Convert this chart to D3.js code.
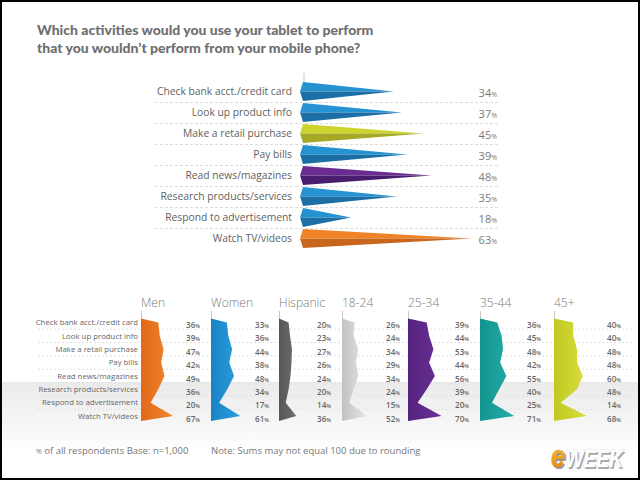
<!DOCTYPE html>
<html>
<head>
<meta charset="utf-8">
<script src="https://cdn.jsdelivr.net/npm/d3@7"></script>
<style>
  html, body { margin: 0; padding: 0; background: #fff; }
  svg { display: block; }
</style>
</head>
<body>
<script>
// ---------------- DATA ----------------
const categories = [
  "Check bank acct./credit card",
  "Look up product info",
  "Make a retail purchase",
  "Pay bills",
  "Read news/magazines",
  "Research products/services",
  "Respond to advertisement",
  "Watch TV/videos"
];
const overall = [34, 37, 45, 39, 48, 35, 18, 63];
const overallColorKey = ["blue", "blue", "lime", "blue", "purple", "blue", "blue", "orange"];

const groups = ["Men", "Women", "Hispanic", "18-24", "25-34", "35-44", "45+"];
const men      = [36, 39, 47, 42, 49, 36, 20, 67];
const women    = [33, 36, 44, 38, 48, 34, 17, 61];
const hispanic = [20, 23, 27, 26, 24, 20, 14, 36];
const age1824  = [26, 24, 34, 29, 34, 24, 15, 52];
const age2534  = [39, 44, 53, 44, 56, 39, 20, 70];
const age3544  = [36, 45, 48, 42, 55, 40, 25, 71];
const age45    = [40, 40, 48, 48, 60, 48, 14, 68];
const groupValues = [men, women, hispanic, age1824, age2534, age3544, age45];

const titleLines = [
  "Which activities would you use your tablet to perform",
  "that you wouldn\u2019t perform from your mobile phone?"
];
const footnote1 = "of all respondents Base: n=1,000";
const footnote2 = "Note: Sums may not equal 100 due to rounding";

// ---------------- STYLE / LAYOUT ----------------
const W = 640, H = 480;
const topColors = {
  blue:   ["#2592d1", "#1c6fa5"],
  lime:   ["#cdd42b", "#a6a923"],
  purple: ["#6a2c92", "#4a1d6e"],
  orange: ["#f08227", "#c9661d"]
};
const groupColors = [
  ["#e0691a", "#f2872c"],
  ["#1a82c4", "#2aa0e0"],
  ["#56565a", "#6e6e72"],
  ["#c2c2c2", "#e6e6e6"],
  ["#55237f", "#6a2f95"],
  ["#12948f", "#22aea8"],
  ["#c0c822", "#d8df3a"]
];
const groupAxisX   = [141, 211, 279, 342, 408, 480, 554];
const groupValueX  = [200, 269, 331, 400, 469, 541, 621];
const font = "'Open Sans', 'DejaVu Sans', sans-serif";

const svg = d3.select("body").append("svg")
  .attr("width", W).attr("height", H)
  .style("font-family", font);

const defs = svg.append("defs");

// background
svg.append("rect").attr("width", W).attr("height", H).attr("fill", "#fff");

// gray band in lower panel
const bandGrad = defs.append("linearGradient").attr("id", "band")
  .attr("x1", 0).attr("y1", 0).attr("x2", 0).attr("y2", 1);
bandGrad.append("stop").attr("offset", "0%").attr("stop-color", "#eaeaea");
bandGrad.append("stop").attr("offset", "100%").attr("stop-color", "#ffffff");

// ---------------- TITLE ----------------
svg.append("g").selectAll("text").data(titleLines).join("text")
  .attr("x", 37)
  .attr("y", (d, i) => 35 + i * 18)
  .attr("fill", "#6f6f6f")
  .attr("font-family", "Lato, 'Open Sans', sans-serif")
  .attr("font-weight", 900)
  .attr("font-size", 14)
  .text(d => d);

// ---------------- TOP CHART ----------------
const yTop = d3.scaleBand().domain(categories).range([81, 249]).paddingInner(0).paddingOuter(0);
const xTop = d3.scaleLinear().domain([0, 100]).range([303, 570]);
const topH = yTop.bandwidth();

const gTop = svg.append("g");

// dashed separators
gTop.selectAll("line.sep").data(categories.slice(1)).join("line")
  .attr("class", "sep")
  .attr("x1", 155).attr("x2", 500)
  .attr("y1", d => yTop(d) + 0.5).attr("y2", d => yTop(d) + 0.5)
  .attr("stroke", "#dcdcdc").attr("stroke-width", 1)
  .attr("stroke-dasharray", "3,2");

// axis tick above first bar
gTop.append("line")
  .attr("x1", xTop(0) + 1).attr("x2", xTop(0) + 1)
  .attr("y1", yTop(categories[0]) - 8).attr("y2", yTop(categories[0]) + 2)
  .attr("stroke", "#c8c8c8").attr("stroke-width", 1);

const rowsTop = gTop.selectAll("g.row").data(categories).join("g").attr("class", "row");

rowsTop.each(function(cat, i) {
  const g = d3.select(this);
  const top = yTop(cat) + 1, bot = yTop(cat) + topH - 1, mid = yTop(cat) + topH / 2;
  const x0 = xTop(0), tip = xTop(overall[i]);
  const c = topColors[overallColorKey[i]];
  g.append("path")
    .attr("d", d3.line()([[x0, top], [x0 - 3, mid], [tip, mid]]) + "Z")
    .attr("fill", c[0]);
  g.append("path")
    .attr("d", d3.line()([[x0 - 3, mid], [x0, bot], [tip, mid]]) + "Z")
    .attr("fill", c[1]);
  g.append("text")
    .attr("x", 292).attr("y", mid).attr("dy", "0.35em")
    .attr("text-anchor", "end")
    .attr("font-size", 10.3).attr("fill", "#5f5f5f")
    .text(cat);
  const t = g.append("text")
    .attr("x", 497).attr("y", mid).attr("dy", "0.35em")
    .attr("text-anchor", "end").attr("fill", "#7a7a7a");
  t.append("tspan").attr("font-size", 11).text(overall[i]);
  t.append("tspan").attr("font-size", 7).text("%");
});

// ---------------- BOTTOM PANELS ----------------
const yBot = d3.scalePoint().domain(categories).range([322.5, 416]);
const step = yBot.step();
const wBot = d3.scaleLinear().domain([0, 100]).range([0, 48]);

svg.insert("rect", "g")
  .attr("x", 0).attr("y", yBot(categories[5]) - step / 2 - 0.5)
  .attr("width", W).attr("height", 70)
  .attr("fill", "url(#band)");

const gBot = svg.append("g");

// dashed separators
gBot.selectAll("line.sep").data(categories.slice(1)).join("line")
  .attr("class", "sep")
  .attr("x1", 38).attr("x2", 632)
  .attr("y1", d => yBot(d) - step / 2).attr("y2", d => yBot(d) - step / 2)
  .attr("stroke", "#e0e0e0").attr("stroke-width", 1)
  .attr("stroke-dasharray", "2,2");

// row labels
gBot.selectAll("text.lab").data(categories).join("text")
  .attr("class", "lab")
  .attr("x", 138).attr("y", d => yBot(d)).attr("dy", "0.35em")
  .attr("text-anchor", "end")
  .attr("font-size", 7.8).attr("fill", "#666")
  .text(d => d);

groups.forEach((name, gi) => {
  const ax = groupAxisX[gi];
  const vals = groupValues[gi];
  const grad = defs.append("linearGradient").attr("id", "gg" + gi)
    .attr("x1", 0).attr("y1", 0).attr("x2", 1).attr("y2", 0);
  grad.append("stop").attr("offset", "0%").attr("stop-color", groupColors[gi][0]);
  grad.append("stop").attr("offset", "100%").attr("stop-color", groupColors[gi][1]);

  const g = gBot.append("g");
  // header
  g.append("text")
    .attr("x", ax).attr("y", 307)
    .attr("font-size", 12).attr("font-weight", 300).attr("fill", "#7a7a7a")
    .text(name);
  // axis line
  g.append("line")
    .attr("x1", ax + 0.5).attr("x2", ax + 0.5)
    .attr("y1", 311).attr("y2", 420)
    .attr("stroke", "#c8c8c8").attr("stroke-width", 1);
  // shape
  const pts = [[ax, yBot(categories[0]) - 4]]
    .concat(vals.map((v, i) => [ax + wBot(v), yBot(categories[i])]))
    .concat([[ax, yBot(categories[categories.length - 1]) + 5]]);
  g.append("path")
    .attr("d", d3.line()(pts) + "Z")
    .attr("fill", "url(#gg" + gi + ")");
  // values
  g.selectAll("text.val").data(vals).join("text")
    .attr("class", "val")
    .attr("x", groupValueX[gi]).attr("y", (d, i) => yBot(categories[i])).attr("dy", "0.35em")
    .attr("text-anchor", "end").attr("fill", "#666").attr("font-weight", 600)
    .each(function(d) {
      const t = d3.select(this);
      t.append("tspan").attr("font-size", 8).text(d);
      t.append("tspan").attr("font-size", 5.5).text("%");
    });
});

// ---------------- FOOTER ----------------
const ft = svg.append("text").attr("x", 36).attr("y", 454).attr("fill", "#777").attr("font-size", 9.5);
ft.append("tspan").attr("font-size", 7).text("%");
ft.append("tspan").text(" " + footnote1);
svg.append("text").attr("x", 211).attr("y", 454).attr("fill", "#777").attr("font-size", 9.5).text(footnote2);

// ---------------- LOGO ----------------
const logoGrad = defs.append("linearGradient").attr("id", "logoE")
  .attr("x1", 0).attr("y1", 0).attr("x2", 0).attr("y2", 1);
logoGrad.append("stop").attr("offset", "0%").attr("stop-color", "#fbd33a");
logoGrad.append("stop").attr("offset", "100%").attr("stop-color", "#e07a12");
const logoFont = "'Liberation Sans', Arial, sans-serif";
function logoText(dx, dy, shadow) {
  const g = svg.append("g").attr("transform", `translate(${551 + dx},${467 + dy}) scale(0.8,1)`);
  const t = g.append("text").attr("x", 0).attr("y", 0)
    .attr("font-family", logoFont)
    .attr("font-style", "italic").attr("font-weight", 700);
  t.append("tspan").attr("font-size", 32).attr("fill", shadow ? "#9a9a9a" : "url(#logoE)")
    .attr("stroke", shadow ? "none" : "#b86a10").attr("stroke-width", 0.5)
    .attr("paint-order", "stroke").text("e");
  t.append("tspan").attr("font-size", 24).attr("fill", shadow ? "#a8a8a8" : "#ffffff")
    .attr("stroke", shadow ? "none" : "#c4c4c4").attr("stroke-width", 0.6)
    .attr("paint-order", "stroke").text("WEEK");
}
logoText(1.5, 1.5, true);
logoText(0, 0, false);

// ---------------- BORDER ----------------
svg.append("rect").attr("x", 1).attr("y", 1).attr("width", W - 2).attr("height", H - 2)
  .attr("fill", "none").attr("stroke", "#000").attr("stroke-width", 2);
</script>
</body>
</html>
